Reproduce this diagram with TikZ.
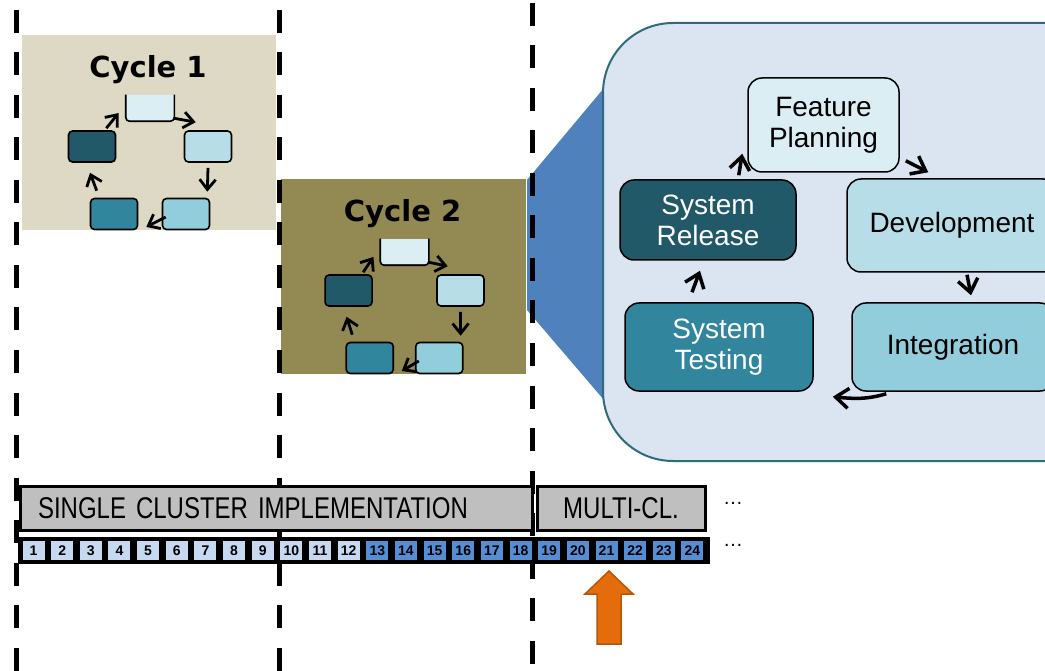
\documentclass[tikz,border=0pt]{standalone}
\usepackage{fontspec}
\setmainfont{Liberation Sans}
\newfontfamily\titlefont{DejaVu Sans}
\newfontfamily\barfont[FakeStretch=0.8]{Liberation Sans}
\usetikzlibrary{arrows.meta}
\definecolor{cycleA}{HTML}{DDD9C4}
\definecolor{cycleB}{HTML}{938953}
\definecolor{tone1}{HTML}{DAEEF3}
\definecolor{tone2}{HTML}{B7DEE8}
\definecolor{tone3}{HTML}{92CDDC}
\definecolor{tone4}{HTML}{31859C}
\definecolor{tone5}{HTML}{215968}
\definecolor{zoomblue}{HTML}{4F81BD}
\definecolor{panel}{HTML}{DBE5F1}
\definecolor{panelrim}{HTML}{2F6B7C}
\definecolor{bargray}{HTML}{BFBFBF}
\definecolor{cellA}{HTML}{C6D9F1}
\definecolor{cellB}{HTML}{558ED5}
\definecolor{pointer}{HTML}{E46C0A}
\definecolor{pointerrim}{HTML}{B65708}

\begin{document}
\begin{tikzpicture}[x=1pt,y=-1pt,
        phase/.style={draw,line width=1.6pt,rounded corners=4pt,minimum width=47pt,minimum height=31pt,inner sep=0pt},
        stage/.style={draw,line width=1.5pt,rounded corners=14pt,align=center,inner sep=0pt,font=\fontsize{28}{31}\selectfont},
        turn/.style={line width=2.8pt,-{Straight Barb[length=10pt,width=16pt]}},
        lap/.style={line width=3.5pt,-{Straight Barb[length=13pt,width=20pt]}},
        border/.style={dash pattern=on 23pt off 19.5pt,line width=5pt},
        span/.style={draw,line width=3pt,fill=bargray,minimum height=44pt,inner sep=0pt,font=\barfont\fontsize{30}{30}\selectfont},
        week/.style={minimum width=22pt,minimum height=19pt,inner sep=0pt,font=\bfseries\fontsize{14}{14}\selectfont}]

    \clip (0,0) rectangle (1045,671);

    \fill[zoomblue] (527,180) -- (604,88) -- (604,400) -- (527,310) -- cycle;
    \draw[panelrim,fill=panel,line width=2pt,rounded corners=70pt] (603,23) rectangle (1120,461);

    \foreach \n/\cx/\cy/\sx/\bg in {1/22/35/1/cycleA,2/281/179/0.965/cycleB}{
        \begin{scope}[shift={(\cx,\cy)},xscale=\sx]
            \fill[fill=\bg] (0,0) rectangle (254,195);
            \node[font=\titlefont\bfseries\fontsize{29}{29}\selectfont] (title\n) at (126,35) {Cycle \n};
            \node[phase,fill=tone1,sharp corners,draw=none,minimum height=25pt] (top\n) at (128,73) {};
            \draw[line width=1.6pt,rounded corners=4pt] (top\n.north west) -- (top\n.south west) -- (top\n.south east) -- (top\n.north east);
            \node[phase,fill=tone2] (right\n) at (186,111.5) {};
            \node[phase,fill=tone3] (lowr\n) at (164,179) {};
            \node[phase,fill=tone4] (lowl\n) at (92,179) {};
            \node[phase,fill=tone5] (left\n) at (70,111.5) {};
            \draw[turn] ([xshift=-10pt,yshift=2pt]left\n.north east) -- ([xshift=-7pt,yshift=-5pt]top\n.west);
            \draw[turn] ([xshift=0pt,yshift=3pt]top\n.south east) -- ([xshift=12pt,yshift=8pt]right\n.north west);
            \draw[turn] ([yshift=-5pt]right\n.south) -- ([xshift=-3pt,yshift=6pt]lowr\n.north east);
            \draw[turn] ([xshift=4pt,yshift=-3pt]lowr\n.west) -- ([xshift=8pt,yshift=-13pt]lowl\n.east);
            \draw[turn] ([xshift=7pt,yshift=7pt]lowl\n.north west) -- ([xshift=-2pt,yshift=-10pt]left\n.south);
        \end{scope}
    }

    \node[stage,fill=tone1,minimum width=151pt,minimum height=94pt] (plan) at (823.5,125) {Feature\\Planning};
    \node[stage,fill=tone2,minimum width=210pt,minimum height=93pt] (dev) at (952,225.5) {Development};
    \node[stage,fill=tone3,minimum width=202pt,minimum height=88pt] (intg) at (953,347) {Integration};
    \node[stage,fill=tone4,text=white,minimum width=188pt,minimum height=88pt] (test) at (719,347) {System\\Testing};
    \node[stage,fill=tone5,text=white,minimum width=176pt,minimum height=80pt] (rel) at (708,220) {System\\Release};

    \draw[lap] ([xshift=-58pt,yshift=4pt]rel.north east) -- ([xshift=-5pt,yshift=19pt]plan.south west);
    \draw[lap] ([xshift=6pt,yshift=12pt]plan.south east) -- ([xshift=82pt,yshift=6pt]dev.north west);
    \draw[lap] ([xshift=15pt,yshift=-2pt]dev.south) -- ([xshift=18pt,yshift=7pt]intg.north);
    \draw[lap] ([xshift=35pt,yshift=-2pt]intg.south west) .. controls +(-20,6) and +(20,2) .. ([xshift=19pt,yshift=-5pt]test.south east);
    \draw[lap] ([xshift=-27pt,yshift=10pt]test.north) -- ([xshift=-8pt,yshift=-10pt]rel.south);

    \draw[border] (16,10) -- (16,671);
    \draw[border] (279,10) -- (279,671);
    \draw[border] (532,3) -- (532,671);

    \node[span,text width=476pt,inner xsep=18pt,align=left] (single) at (276,508) {SINGLE CLUSTER IMPLEMENTATION};
    \node[span,minimum width=168pt] (multi) at (621,508) {MULTI-CL.};
    \node[font=\fontsize{20}{20}\selectfont,anchor=base] (moreA) at (733,504) {\dots};

    \node[fill=black,minimum width=692pt,minimum height=27pt,inner sep=0pt] (strip) at (364,550.5) {};
    \foreach \i in {1,...,24}{
        \ifnum\i<13 \def\wk{cellA}\else\def\wk{cellB}\fi
        \node[week,fill=\wk] (w\i) at ({33.5+(\i-1)*28.65},550.5) {\i};
    }
    \node[font=\fontsize{20}{20}\selectfont,anchor=base] (moreB) at (733,546) {\dots};

    \draw[pointerrim,fill=pointer,line width=1.5pt] (609,571) -- (633,594) -- (621,594) -- (621,644) -- (597,644) -- (597,594) -- (585,594) -- cycle;
\end{tikzpicture}
\end{document}
